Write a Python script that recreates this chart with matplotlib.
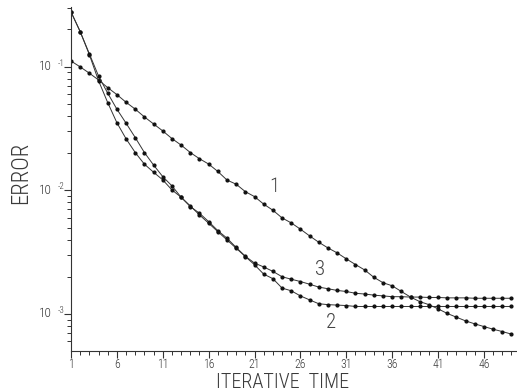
import numpy as np
import matplotlib
matplotlib.use("Agg")
import matplotlib.pyplot as plt
from matplotlib import font_manager
from matplotlib.ticker import LogLocator, MultipleLocator, FixedLocator, NullFormatter

# iteration index
iters = list(range(1, 50))

# curve 1
err1 = [0.111, 0.0995, 0.0885, 0.078, 0.0676, 0.0594, 0.0515, 0.0453, 0.0392, 0.0344,
        0.0302, 0.0262, 0.0232, 0.0202, 0.0180, 0.0163, 0.0142, 0.0121, 0.0112, 0.00975,
        0.00889, 0.00773, 0.00690, 0.00598, 0.00545, 0.00485, 0.00428, 0.00380, 0.00342, 0.00312,
        0.00279, 0.00251, 0.00227, 0.00198, 0.00179, 0.00169, 0.00152, 0.00137, 0.00126, 0.00119,
        0.00110, 0.00101, 0.000942, 0.000879, 0.000832, 0.000791, 0.000753, 0.000721, 0.000687]

# curve 2
err2 = [0.277, 0.192, 0.125, 0.077, 0.0512, 0.0352, 0.0261, 0.0202, 0.01626, 0.0140,
        0.01214, 0.01007, 0.00879, 0.00748, 0.00632, 0.00542, 0.00463, 0.00397, 0.00340, 0.00291,
        0.00250, 0.00210, 0.00193, 0.00162, 0.00154, 0.00140, 0.00130, 0.00121, 0.00119, 0.00118,
        0.00117, 0.00115, 0.00115, 0.00115, 0.00115, 0.00115, 0.00115, 0.00115, 0.00115, 0.00115,
        0.00115, 0.00115, 0.00115, 0.00115, 0.00115, 0.00115, 0.00115, 0.00115, 0.00115]

# curve 3
err3 = [0.277, 0.192, 0.127, 0.084, 0.0610, 0.0453, 0.0349, 0.0267, 0.0202, 0.0160,
        0.0129, 0.01086, 0.00879, 0.00738, 0.00653, 0.00558, 0.00472, 0.00410, 0.00345, 0.00293,
        0.00258, 0.00240, 0.00221, 0.00200, 0.00191, 0.00183, 0.00174, 0.00165, 0.00160, 0.00155,
        0.00152, 0.00147, 0.00145, 0.00142, 0.00140, 0.00138, 0.00138, 0.00137, 0.00137, 0.00136,
        0.00136, 0.00135, 0.00135, 0.00135, 0.00134, 0.00134, 0.00134, 0.00134, 0.00134]

# curve labels (text, x, y)
curve_labels = [("1", 23.2, 0.0107), ("3", 28.1, 0.00227), ("2", 29.3, 0.00085)]

xticks = [1, 6, 11, 16, 21, 26, 31, 36, 41, 46]
yticks = [1e-3, 1e-2, 1e-1]
ytick_labels = ["10", "10", "10"]
ytick_exps = ["-3", "-2", "-1"]


# pick a thin narrow font if one is installed
def pick_font():
    wanted = ["RobotoCondensed-Light", "LiberationSansNarrow-Regular",
              "DejaVuSansCondensed.ttf", "Roboto-Light", "OpenSans-Light"]
    files = [f.fname for f in font_manager.fontManager.ttflist]
    for w in wanted:
        for fn in files:
            if w in fn.replace(" ", ""):
                return fn
    return None


fname = pick_font()


def fp(size):
    if fname:
        return font_manager.FontProperties(fname=fname, size=size)
    return font_manager.FontProperties(family="DejaVu Sans", size=size)


txt_col = "#3a3a3a"

fig = plt.figure(figsize=(5.17, 3.92), dpi=100)
ax = fig.add_axes([0.1373, 0.1054, 0.8627, 0.8766])

for err in (err1, err2, err3):
    ax.plot(iters, err, color="#333333", lw=0.7, marker="o", ms=2.0,
            mec="#111111", mfc="#111111")

ax.set_yscale("log")
ax.set_xlim(1, 49.6)
ax.set_ylim(5.05e-4, 0.303)

ax.spines["top"].set_visible(False)
ax.spines["right"].set_visible(False)
for s in ("left", "bottom"):
    ax.spines[s].set_linewidth(0.8)
    ax.spines[s].set_color("#333333")

ax.xaxis.set_major_locator(FixedLocator(xticks))
ax.xaxis.set_minor_locator(MultipleLocator(1))
ax.yaxis.set_major_locator(FixedLocator(yticks))
ax.yaxis.set_minor_locator(LogLocator(base=10, subs=np.arange(2, 10)))
ax.yaxis.set_minor_formatter(NullFormatter())
ax.set_yticklabels([])

ax.tick_params(which="major", length=5, width=0.8, color="#333333")
ax.tick_params(which="minor", length=3, width=0.7, color="#333333")
ax.tick_params(axis="x", pad=0.5)

ax.set_xticklabels([str(t) for t in xticks])
for lab in ax.get_xticklabels():
    lab.set_fontproperties(fp(8.5))
    lab.set_color(txt_col)

# y tick labels drawn as "10" plus a raised exponent, like the original
for v, base, ex in zip(yticks, ytick_labels, ytick_exps):
    ax.annotate(base, (0, v), xycoords=("axes fraction", "data"),
                xytext=(-13.5, 0), textcoords="offset points",
                ha="right", va="center", fontproperties=fp(9.5), color=txt_col)
    ax.annotate(ex, (0, v), xycoords=("axes fraction", "data"),
                xytext=(-4.5, 2.5), textcoords="offset points",
                ha="right", va="center", fontproperties=fp(6.5), color=txt_col)

fig.text(283 / 517, 1 - 388 / 392, "ITERATIVE  TIME", fontproperties=fp(14.5),
         color=txt_col, ha="center", va="baseline")
fig.text(20.5 / 517, 1 - 173 / 392, "ERROR", fontproperties=fp(16.5),
         color=txt_col, ha="center", va="center", rotation=90)

for txt, x, y in curve_labels:
    ax.text(x, y, txt, fontproperties=fp(15), color="#444444",
            ha="center", va="center")

fig.savefig("out.png", dpi=100)
